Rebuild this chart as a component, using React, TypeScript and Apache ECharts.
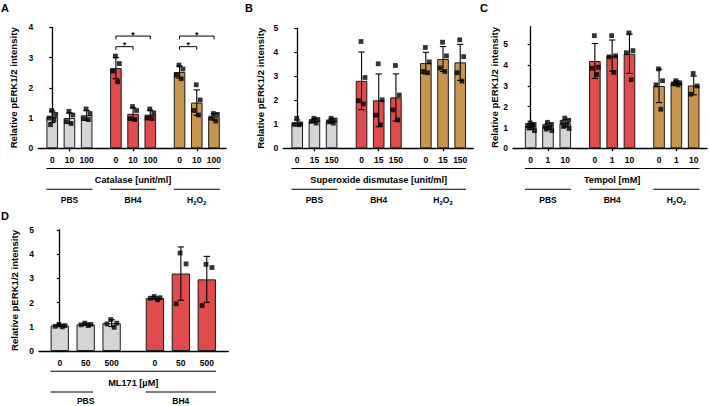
import React, { useEffect, useRef } from "react";
import * as echarts from "echarts";

const FONT = "'Liberation Sans', Arial, Helvetica, sans-serif";
const GRAY = "#d5d5d5";
const RED = "#e04c4c";
const GOLD = "#c8954e";
const Y_TITLE = "Relative pERK1/2 intensity";

// group names; "{s|2}" marks a subscript 2 (H2O2)
const groupsABC = ["PBS", "BH4", "H{s|2}O{s|2}"];
const groupsD = ["PBS", "BH4"];

// ---- Panel A: Catalase ----
const dosesA = ["0", "10", "100"];
const meansA = [1.04, 1.0, 1.09, 2.65, 1.14, 1.11, 2.52, 1.51, 1.04];
const sdA = [0.19, 0.17, 0.16, 0.35, 0.2, 0.15, 0.2, 0.42, 0.11];
const pointsA = [
  [1.25, 1.12, 1.0, 0.95, 0.78],
  [1.22, 1.1, 0.88, 0.82],
  [1.3, 1.15, 0.98, 0.95],
  [3.05, 2.8, 2.55, 2.2],
  [1.38, 1.25, 0.98, 0.95],
  [1.3, 1.17, 1.0, 0.98],
  [2.75, 2.62, 2.42, 2.3],
  [2.1, 1.6, 1.25, 1.1],
  [1.15, 1.12, 1.0, 0.9],
];
// significance brackets: group, from dose, to dose, level
const bracketsA = [
  { group: 1, from: 0, to: 1, level: 3.36 },
  { group: 1, from: 0, to: 2, level: 3.71 },
  { group: 2, from: 0, to: 1, level: 3.36 },
  { group: 2, from: 0, to: 2, level: 3.71 },
];

// ---- Panel B: Superoxide dismutase ----
const dosesB = ["0", "15", "150"];
const meansB = [1.06, 1.15, 1.15, 2.81, 2.0, 2.12, 3.55, 3.72, 3.58];
const sdB = [0.12, 0.08, 0.08, 1.2, 1.1, 0.98, 0.45, 0.52, 0.75];
const pointsB = [
  [1.25, 1.02, 1.0, 0.98],
  [1.25, 1.2, 1.12, 1.05],
  [1.25, 1.18, 1.1, 1.05],
  [4.45, 2.95, 1.98, 1.85],
  [3.52, 2.02, 1.38, 0.98],
  [3.45, 2.22, 1.6, 1.18],
  [4.2, 3.6, 3.2, 3.15],
  [4.42, 3.85, 3.35, 3.2],
  [4.52, 3.82, 3.15, 2.8],
];

// ---- Panel C: Tempol ----
const dosesC = ["0", "1", "10"];
const meansC = [1.05, 1.05, 1.2, 4.2, 4.46, 4.55, 3.0, 3.14, 3.02];
const sdC = [0.15, 0.15, 0.18, 0.84, 0.75, 0.95, 0.8, 0.1, 0.45];
const pointsC = [
  [1.22, 1.15, 1.1, 1.05, 0.98, 0.85],
  [1.25, 1.15, 1.05, 1.0, 0.92, 0.85],
  [1.45, 1.35, 1.25, 1.15, 1.05, 0.95],
  [5.42, 3.9, 3.85, 3.55],
  [5.42, 4.45, 4.4, 3.65],
  [5.55, 4.7, 4.6, 3.3],
  [3.82, 3.25, 3.05, 1.88],
  [3.25, 3.15, 3.1, 3.05],
  [3.6, 3.0, 2.6],
];

// ---- Panel D: ML171 ----
const dosesD = ["0", "50", "500"];
const meansD = [1.05, 1.1, 1.15, 2.19, 3.2, 2.96];
const sdD = [0.05, 0.05, 0.14, 0.05, 1.1, 0.95];
const pointsD = [
  [1.1, 1.05, 1.02, 1.0],
  [1.15, 1.1, 1.08, 1.05],
  [1.3, 1.15, 1.12, 0.98],
  [2.25, 2.2, 2.18, 2.12],
  [4.05, 3.6, 1.95],
  [3.58, 3.45, 1.88],
];

const JITTER = [-0.03, 0.2, -0.18, 0.1, -0.1, 0.22];

type Panel = {
  letter: string;
  letterPos: [number, number];
  grid: { left: number; top: number; width: number; height: number };
  xMin: number;
  xMax: number;
  yMax: number;
  yTicks: number[];
  gap: number;
  barWidth: number;
  doses: string[];
  groups: string[];
  colors: string[];
  means: number[];
  sd: number[];
  points: number[][];
  title: string;
  nameGap: number;
  midTicks: boolean;
  groupLabelOffset: number;
  brackets?: { group: number; from: number; to: number; level: number }[];
  groupSpans?: ([number, number] | null)[];
};

const panels: Panel[] = [
  {
    letter: "A", letterPos: [1, 2],
    grid: { left: 38.3, top: 27.3, width: 187.7, height: 121 },
    xMin: -0.81, xMax: 10.1, yMax: 4, yTicks: [0, 1, 2, 3, 4], gap: 3.7, barWidth: 11.6,
    doses: dosesA, groups: groupsABC, colors: [GRAY, RED, GOLD],
    means: meansA, sd: sdA, points: pointsA, title: "Catalase [unit/ml]", nameGap: 20,
    midTicks: true, brackets: bracketsA, groupLabelOffset: 52,
  },
  {
    letter: "B", letterPos: [245, 2],
    grid: { left: 283.3, top: 28.3, width: 190, height: 120 },
    xMin: -0.81, xMax: 10.24, yMax: 5, yTicks: [0, 1, 2, 3, 4, 5], gap: 3.74, barWidth: 11.6,
    doses: dosesB, groups: groupsABC, colors: [GRAY, RED, GOLD],
    means: meansB, sd: sdB, points: pointsB, title: "Superoxide dismutase [unit/ml]", nameGap: 18,
    midTicks: true, groupLabelOffset: 52,
  },
  {
    letter: "C", letterPos: [480, 2],
    grid: { left: 513, top: 26.7, width: 194, height: 121.6 },
    xMin: -1.02, xMax: 10.19, yMax: 5.85, yTicks: [0, 1, 2, 3, 4, 5], gap: 3.71, barWidth: 11.6,
    doses: dosesC, groups: groupsABC, colors: [GRAY, RED, GOLD],
    means: meansC, sd: sdC, points: pointsC, title: "Tempol [mM]", nameGap: 4,
    midTicks: true, groupLabelOffset: 52,
  },
  {
    letter: "D", letterPos: [1, 210],
    grid: { left: 39, top: 230, width: 189.3, height: 121 },
    xMin: -0.8, xMax: 6.5, yMax: 5, yTicks: [0, 1, 2, 3, 4, 5], gap: 3.67, barWidth: 18.3,
    doses: dosesD, groups: groupsD, colors: [GRAY, RED],
    means: meansD, sd: sdD, points: pointsD, title: "ML171 [µM]", nameGap: 20,
    midTicks: false, groupLabelOffset: 49.5,
    groupSpans: [[-0.35, 1.28], null],
  },
];

function positions(p: Panel) {
  const pos: number[] = [];
  p.groups.forEach((_, gi) => p.doses.forEach((__, di) => pos.push(gi * p.gap + di)));
  return pos;
}

function buildOption() {
  const grid: any[] = [];
  const xAxis: any[] = [];
  const yAxis: any[] = [];
  const series: any[] = [];
  panels.forEach((p, i) => {
    const pos = positions(p);
    const labelMap: Record<string, string> = {};
    pos.forEach((x, k) => (labelMap[x.toFixed(3)] = p.doses[k % p.doses.length]));
    const mids = p.groups.map((_, gi) => gi * p.gap + 1);
    grid.push({ ...p.grid, outerBoundsMode: "none", containLabel: false });
    xAxis.push({
      type: "value", gridIndex: i, min: p.xMin, max: p.xMax,
      splitLine: { show: false },
      axisLine: { show: true, onZero: false, lineStyle: { color: "#000", width: 1.3 } },
      axisTick: { show: p.midTicks, customValues: mids, length: 3, lineStyle: { color: "#000", width: 1.2 } },
      axisLabel: {
        customValues: pos, margin: 7, fontFamily: FONT, fontWeight: "bold", fontSize: 8.5, color: "#000",
        formatter: (v: number) => labelMap[Number(v).toFixed(3)] ?? "",
      },
    });
    yAxis.push({
      type: "value", gridIndex: i, min: 0, max: p.yMax, interval: 1,
      splitLine: { show: false },
      axisLine: { show: true, lineStyle: { color: "#000", width: 1.3 } },
      axisTick: { show: true, customValues: p.yTicks, length: 3, lineStyle: { color: "#000", width: 1.2 } },
      axisLabel: { customValues: p.yTicks, margin: 5, fontFamily: FONT, fontWeight: "bold", fontSize: 8.5, color: "#000" },
      name: Y_TITLE, nameLocation: "middle", nameRotate: 90, nameGap: p.nameGap,
      nameTextStyle: { fontFamily: FONT, fontWeight: "bold", fontSize: 9.6, color: "#000" },
    });
    series.push({
      type: "bar", xAxisIndex: i, yAxisIndex: i, barWidth: p.barWidth, z: 2,
      itemStyle: { borderColor: "#1a1a1a", borderWidth: 1 },
      data: pos.map((x, k) => ({
        value: [x, p.means[k]],
        itemStyle: { color: p.colors[Math.floor(k / p.doses.length)], borderColor: "#1a1a1a", borderWidth: 1 },
      })),
    });
    series.push({
      type: "custom", xAxisIndex: i, yAxisIndex: i, z: 3,
      data: pos.map((x, k) => [x, p.means[k] - p.sd[k], p.means[k] + p.sd[k]]),
      renderItem: (_params: any, api: any) => {
        const x = api.value(0);
        const lo = api.coord([x, api.value(1)]);
        const hi = api.coord([x, api.value(2)]);
        const w = 3.2;
        const st = { stroke: "#000", lineWidth: 1.1 };
        return {
          type: "group",
          children: [
            { type: "line", shape: { x1: lo[0], y1: lo[1], x2: hi[0], y2: hi[1] }, style: st },
            { type: "line", shape: { x1: hi[0] - w, y1: hi[1], x2: hi[0] + w, y2: hi[1] }, style: st },
            { type: "line", shape: { x1: lo[0] - w, y1: lo[1], x2: lo[0] + w, y2: lo[1] }, style: st },
          ],
        };
      },
    });
    const pts: number[][] = [];
    p.points.forEach((vals, k) => vals.forEach((v, r) => pts.push([pos[k] + JITTER[r % JITTER.length], v])));
    series.push({
      type: "scatter", xAxisIndex: i, yAxisIndex: i, z: 4, symbol: "rect", symbolSize: 4.8,
      itemStyle: { color: "#000" }, data: pts,
    });
  });
  return {
    animation: false,
    backgroundColor: "#fff",
    grid, xAxis, yAxis, series,
  };
}

function buildGraphics(chart: echarts.ECharts) {
  const g: any[] = [];
  const txt = (x: number, y: number, text: string, size: number, align = "center", vAlign = "middle") => ({
    type: "text", x, y, silent: true,
    style: {
      text, fontFamily: FONT, fontWeight: "bold", fontSize: size, fill: "#000", align, verticalAlign: vAlign,
      lineHeight: 12,
      rich: {
        s: { fontFamily: FONT, fontWeight: "bold", fontSize: 6, lineHeight: 6, verticalAlign: "bottom", fill: "#000" },
      },
    },
  });
  const line = (x1: number, y1: number, x2: number, y2: number) => ({
    type: "line", silent: true, shape: { x1, y1, x2, y2 }, style: { stroke: "#000", lineWidth: 1.1 },
  });
  panels.forEach((p, i) => {
    const pos = positions(p);
    const toPx = (x: number, y: number) => chart.convertToPixel({ gridIndex: i } as any, [x, y]) as number[];
    const bottom = p.grid.top + p.grid.height;
    g.push(txt(p.letterPos[0], p.letterPos[1], p.letter, 11, "left", "top"));
    const halfW = p.barWidth / 2;
    const first = toPx(pos[0], 0)[0] - halfW;
    const last = toPx(pos[pos.length - 1], 0)[0] + halfW;
    g.push(line(first, bottom + 20.2, last, bottom + 20.2));
    g.push(txt((first + last) / 2, bottom + 31.8, p.title, 9.2));
    const n = p.doses.length;
    p.groups.forEach((name, gi) => {
      const span = p.groupSpans && p.groupSpans[gi];
      let a: number, b: number;
      if (span) {
        a = toPx(span[0], 0)[0];
        b = toPx(span[1], 0)[0];
      } else {
        a = toPx(pos[gi * n], 0)[0] - halfW;
        b = toPx(pos[gi * n + n - 1], 0)[0] + halfW;
      }
      g.push(line(a, bottom + 41, b, bottom + 41));
      const c = toPx(pos[gi * n + 1], 0)[0];
      g.push(txt(c, bottom + p.groupLabelOffset, name, 8.5));
    });
    (p.brackets || []).forEach((br) => {
      const x1 = toPx(pos[br.group * n + br.from], br.level);
      const x2 = toPx(pos[br.group * n + br.to], br.level);
      const y = x1[1];
      g.push({
        type: "polyline", silent: true,
        shape: { points: [[x1[0], y + 3.2], [x1[0], y], [x2[0], y], [x2[0], y + 3.2]] },
        style: { stroke: "#000", lineWidth: 1, fill: "none" },
      });
      g.push(txt((x1[0] + x2[0]) / 2, y - 1.5, "*", 9));
    });
  });
  return g;
}

export default function App() {
  const ref = useRef<HTMLDivElement>(null);
  useEffect(() => {
    if (!ref.current) return;
    const chart = echarts.init(ref.current, undefined, { renderer: "svg" });
    chart.setOption(buildOption());
    chart.setOption({ graphic: buildGraphics(chart) });
    return () => chart.dispose();
  }, []);
  return (
    <div
      ref={ref}
      style={{ position: "fixed", left: 0, top: 0, width: 709, height: 406, background: "#fff" }}
    />
  );
}
